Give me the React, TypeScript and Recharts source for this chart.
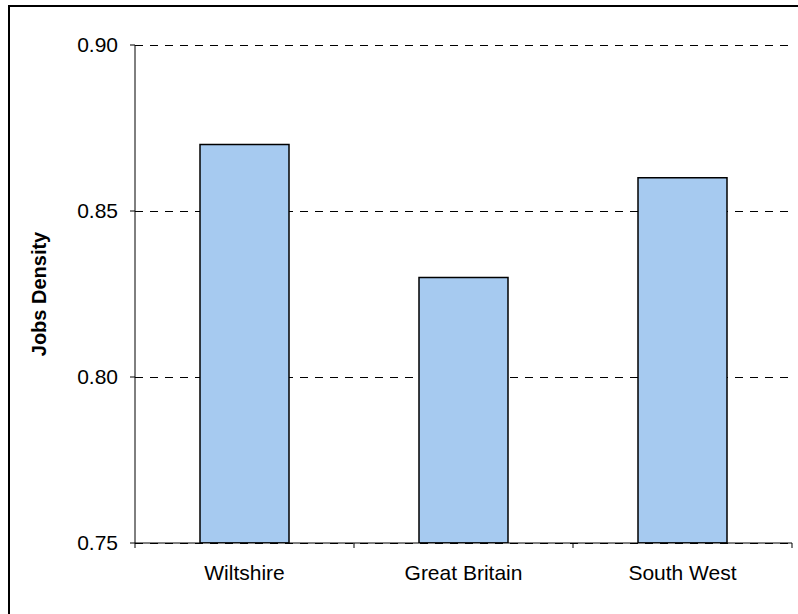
import React from 'react';
import { BarChart, Bar, XAxis, YAxis, CartesianGrid } from 'recharts';

const regions = ['Wiltshire', 'Great Britain', 'South West'];
const jobsDensity = [0.87, 0.83, 0.86];
const yTicks = [0.75, 0.8, 0.85, 0.9];

const data = regions.map((name, i) => ({ name, density: jobsDensity[i] }));

const W = 798;
const H = 614;
const MARGIN = { top: 45, right: 6, bottom: 41, left: 55 };
const Y_AXIS_W = 80;
const FONT = '"Liberation Sans", Arial, sans-serif';
const BAND = (W - MARGIN.left - MARGIN.right - Y_AXIS_W) / regions.length;

// category labels, with Excel-style tick marks on the band edges
const CategoryTick = (props: any) => {
  const { x, y, payload, index, visibleTicksCount } = props;
  const half = payload && payload.offset ? payload.offset : BAND / 2;
  const last = index === visibleTicksCount - 1;
  return (
    <g>
      <line x1={x - half} x2={x - half} y1={y} y2={y + 5} stroke="#000" />
      {last && <line x1={x + half} x2={x + half} y1={y} y2={y + 5} stroke="#000" />}
      <text x={x} y={y + 37} textAnchor="middle" fontFamily={FONT} fontSize={21} fill="#000">
        {payload.value}
      </text>
    </g>
  );
};

const AxisTitle = (props: any) => {
  const vb = props.viewBox || { x: MARGIN.left, y: MARGIN.top, height: H - MARGIN.top - 71 };
  const cx = vb.x - 16;
  const cy = vb.y + vb.height / 2;
  return (
    <text
      x={cx}
      y={cy}
      transform={`rotate(-90 ${cx} ${cy})`}
      textAnchor="middle"
      dominantBaseline="central"
      fontFamily={FONT}
      fontSize={20}
      fontWeight="bold"
      fill="#000"
    >
      Jobs Density
    </text>
  );
};

export default function App() {
  return (
    <div style={{ position: 'absolute', left: 0, top: 0, width: W, height: H, overflow: 'hidden', background: '#fff' }}>
      <div
        style={{
          position: 'absolute',
          left: 8,
          top: 5,
          width: W + 20,
          height: H + 20,
          border: '2px solid #000',
        }}
      />
      <div style={{ position: 'absolute', left: 0, top: 0 }}>
        <BarChart width={W} height={H} data={data} margin={MARGIN}>
          <CartesianGrid
            vertical={false}
            stroke="#000"
            strokeDasharray="8 7"
            shapeRendering="crispEdges"
          />
          <XAxis
            dataKey="name"
            height={30}
            tickLine={false}
            tickSize={0}
            tickMargin={0}
            axisLine={{ stroke: '#000' }}
            tick={<CategoryTick />}
            interval={0}
          />
          <YAxis
            width={Y_AXIS_W}
            domain={[0.75, 0.9]}
            ticks={yTicks}
            allowDataOverflow
            tickFormatter={(v: number) => v.toFixed(2)}
            tickSize={5}
            tickMargin={12}
            axisLine={{ stroke: '#000' }}
            tickLine={{ stroke: '#000' }}
            tick={{ fill: '#000', fontSize: 21, fontFamily: FONT }}
            label={<AxisTitle />}
          />
          <Bar
            dataKey="density"
            fill="#A6CAF0"
            stroke="#000"
            strokeWidth={1.5}
            barSize={89}
            isAnimationActive={false}
          />
        </BarChart>
      </div>
    </div>
  );
}
